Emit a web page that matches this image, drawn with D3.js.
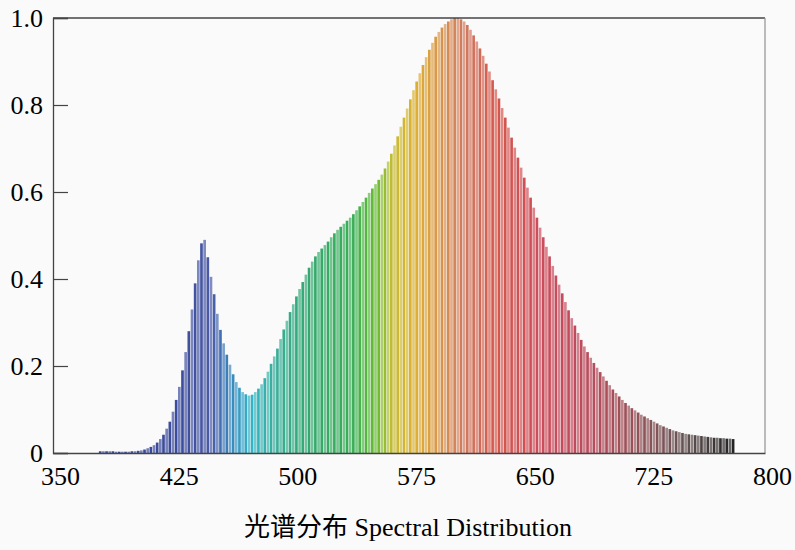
<!DOCTYPE html>
<html>
<head>
<meta charset="utf-8">
<script src="https://cdn.jsdelivr.net/npm/d3@7"></script>
<style>
  html, body { margin: 0; padding: 0; background: #fafafa; }
  svg { display: block; }
  text { font-family: "Liberation Serif", "Noto Sans CJK SC", serif; fill: #000; }
</style>
</head>
<body>
<svg id="chart" width="795" height="550"></svg>
<script>
// spectrum, every 2 nm from 380 to 780
var wlStart = 380, wlStep = 2;
var intensity = [
  0.004, 0.004, 0.004, 0.004, 0.004, 0.003, 0.003, 0.003, 0.003, 0.003,
  0.004, 0.004, 0.005, 0.006, 0.008, 0.011, 0.014, 0.018, 0.024, 0.032,
  0.042, 0.056, 0.072, 0.095, 0.122, 0.152, 0.190, 0.232, 0.280, 0.330,
  0.390, 0.443, 0.482, 0.490, 0.450, 0.405, 0.365, 0.320, 0.283, 0.252,
  0.226, 0.203, 0.181, 0.163, 0.150, 0.140, 0.135, 0.132, 0.134, 0.140,
  0.148, 0.158, 0.172, 0.187, 0.205, 0.222, 0.240, 0.262, 0.284, 0.304,
  0.324, 0.342, 0.360, 0.377, 0.393, 0.410, 0.426, 0.440, 0.452, 0.462,
  0.470, 0.478, 0.486, 0.496, 0.505, 0.513, 0.520, 0.527, 0.534, 0.541,
  0.549, 0.558, 0.567, 0.577, 0.587, 0.598, 0.608, 0.618, 0.628, 0.640,
  0.654, 0.670, 0.688, 0.707, 0.728, 0.750, 0.771, 0.792, 0.813, 0.834,
  0.854, 0.873, 0.892, 0.910, 0.927, 0.943, 0.957, 0.968, 0.978, 0.986,
  0.992, 0.997, 1.000, 1.000, 0.997, 0.992, 0.984, 0.973, 0.960, 0.946,
  0.930, 0.913, 0.895, 0.877, 0.857, 0.836, 0.815, 0.793, 0.771, 0.748,
  0.725, 0.702, 0.679, 0.656, 0.633, 0.610, 0.587, 0.564, 0.541, 0.518,
  0.496, 0.474, 0.452, 0.430, 0.408, 0.387, 0.367, 0.347, 0.328, 0.310,
  0.293, 0.276, 0.260, 0.245, 0.232, 0.219, 0.207, 0.196, 0.186, 0.176,
  0.166, 0.156, 0.146, 0.138, 0.130, 0.122, 0.115, 0.109, 0.103, 0.098,
  0.093, 0.088, 0.084, 0.080, 0.076, 0.072, 0.068, 0.064, 0.061, 0.058,
  0.055, 0.052, 0.050, 0.048, 0.046, 0.044, 0.043, 0.042, 0.041, 0.040,
  0.039, 0.038, 0.037, 0.036, 0.035, 0.035, 0.034, 0.034, 0.033, 0.033,
  0.032
];
var wavelengths = intensity.map(function(d, i) { return wlStart + i * wlStep; });

// colour of each wavelength (stops)
var colorStops = [380, 430, 450, 465, 475, 490, 510, 540, 555, 565, 580, 595, 610, 630, 660, 690, 710, 730, 750, 780];
var colorValues = ["#3a4a98", "#3c4c9c", "#4a5aa6", "#3890c0", "#34b4c8", "#3aae9c", "#34a872", "#3aae54", "#6cbc34", "#c8bc34",
                   "#dcae34", "#d8944c", "#d07a60", "#d4584c", "#cc4c5c", "#b84c5c", "#a05058", "#845458", "#645454", "#222222"];

var xTicks = [350, 425, 500, 575, 650, 725, 800];
var yTicks = [0, 0.2, 0.4, 0.6, 0.8, 1.0];
var xTitle = "光谱分布 Spectral Distribution";

var margin = {top: 18, right: 30, bottom: 97, left: 53};
var svg = d3.select("#chart");
var width = 795 - margin.left - margin.right,
    height = 550 - margin.top - margin.bottom;
var g = svg.append("g")
    .attr("transform", "translate(" + margin.left + "," + margin.top + ")");

var xScale = d3.scaleLinear().domain([350, 800]).range([0, width]);
var yScale = d3.scaleLinear().domain([0, 1]).range([height, 0]);
var colorScale = d3.scaleLinear().domain(colorStops).range(colorValues).interpolate(d3.interpolateRgb);

// bars, one per sample; every other one washed out a bit like the original stripes
g.selectAll(".bar")
    .data(intensity)
  .enter().append("rect")
    .attr("class", "bar")
    .attr("x", function(d, i) { return xScale(wavelengths[i] - wlStep / 2); })
    .attr("width", function(d, i) { return xScale(wavelengths[i] + wlStep / 2) - xScale(wavelengths[i] - wlStep / 2) - 0.5; })
    .attr("y", function(d) { return yScale(d); })
    .attr("height", function(d) { return yScale(0) - yScale(d); })
    .attr("fill", function(d, i) {
        var c = colorScale(wavelengths[i]);
        return i % 2 ? d3.interpolateRgb(c, "#ffffff")(0.3) : c;
    });

// frame
g.append("line").attr("x1", 0).attr("x2", width).attr("y1", 0).attr("y2", 0).attr("stroke", "#444").attr("stroke-width", 1.3);
g.append("line").attr("x1", width).attr("x2", width).attr("y1", 0).attr("y2", height).attr("stroke", "#999").attr("stroke-width", 1.3);

// y axis, ticks inward
var yAxis = g.append("g")
    .attr("class", "y axis")
    .call(d3.axisLeft(yScale).tickValues(yTicks).tickSize(-15).tickPadding(10)
        .tickFormat(function(d) { return d === 0 ? "0" : d.toFixed(1); }));
yAxis.select(".domain").attr("stroke", "#444").attr("stroke-width", 1.3);
yAxis.selectAll(".tick line").attr("stroke", "#444").attr("stroke-width", 1.2);
yAxis.selectAll("text").attr("font-size", 26).attr("fill", "#000")
    .attr("font-family", "Liberation Serif");

// x axis, labels only
var xAxis = g.append("g")
    .attr("class", "x axis")
    .attr("transform", "translate(0," + height + ")")
    .call(d3.axisBottom(xScale).tickValues(xTicks).tickSize(0).tickPadding(14));
xAxis.select(".domain").attr("stroke", "#444").attr("stroke-width", 1.3);
xAxis.selectAll("text").attr("font-size", 26).attr("fill", "#000")
    .attr("font-family", "Liberation Serif").attr("dx", 7);

svg.append("text")
    .attr("x", 408)
    .attr("y", 536)
    .attr("text-anchor", "middle")
    .attr("font-size", 26)
    .text(xTitle);
</script>
</body>
</html>
